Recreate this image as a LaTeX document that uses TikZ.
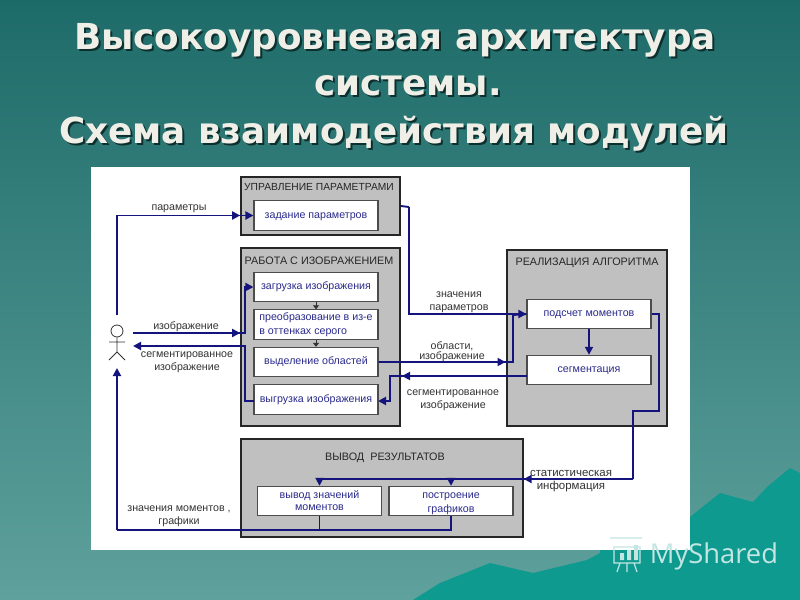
\documentclass[tikz,border=0pt]{standalone}
\usepackage{fontspec}
\setmainfont{Liberation Sans}
\newfontfamily\titlefont{DejaVu Sans}
\newfontfamily\markfont{Open Sans}
\usetikzlibrary{arrows.meta}
\definecolor{bgtop}{HTML}{1D6B69}
\definecolor{bgbot}{HTML}{5FA19C}
\definecolor{hill}{HTML}{0F9A90}
\definecolor{navyline}{HTML}{14147C}
\definecolor{navytext}{HTML}{2A2A8C}
\definecolor{panelgray}{HTML}{C0C0C0}
\definecolor{titlewhite}{HTML}{EFEFE8}
\tikzset{
 grp/.style={draw=black!85,fill=panelgray,line width=1.5pt,inner sep=0pt},
 inbox/.style={draw=black!70,fill=white,line width=0.8pt,inner sep=0pt,minimum width=93pt,minimum height=22pt,font=\fontsize{8}{10.5}\selectfont,text=navytext,align=center},
 oneline/.style={text height=5.2pt,text depth=1pt},
 head/.style={font=\fontsize{8.1}{10}\selectfont,text=black!85,yshift=-0.8pt},
 lab/.style={font=\fontsize{8}{9.8}\selectfont,text=black!80,align=center,yshift=-2pt},
 wire/.style={draw=navyline,line width=1.4pt},
 arr/.style={wire,-{Triangle[length=6pt,width=6pt]}},
 tinyarr/.style={draw=black!80,line width=0.6pt,-{Triangle[length=3pt,width=4.5pt]}},
 titletext/.style={font=\titlefont\bfseries\fontsize{26.8}{30}\selectfont,text=#1}
}
\begin{document}
\begin{tikzpicture}[x=0.75pt,y=-0.75pt]
\useasboundingbox(0,0)rectangle(800,600);
\shade[top color=bgtop,bottom color=bgbot](0,0)rectangle(800,600);
\fill[hill](800,473)--(790,468)--(767,487)--(753,502)--(720,493)--(690,517)--(690,540)--(600,540)--(600,553)--(587,560)--(533,573)--(490,563)--(440,583)--(413,600)--(800,600)--cycle;
% title
\foreach \n/\t/\x/\y in {a/Высокоуровневая архитектура/395/40,b/системы./408/86,c/Схема взаимодействия модулей/394/134}{
\node[titletext=black!55!bgtop](shadow\n)at(\x+2,\y+2){\t};
\node[titletext=titlewhite](title\n)at(\x,\y){\t};
}
\fill[white](91,167)rectangle(690,550);
% groups
\node[grp,minimum width=119pt,minimum height=44pt](gparam)at(320.5,206){};
\node[grp,minimum width=119pt,minimum height=133pt](gimage)at(320.5,337){};
\node[grp,minimum width=120pt,minimum height=132pt](galgo)at(586.5,337.5){};
\node[grp,minimum width=211pt,minimum height=73pt](gout)at(382,488){};
\node[head,font=\fontsize{7.7}{10}\selectfont]at(319,186){УПРАВЛЕНИЕ ПАРАМЕТРАМИ};
\node[head]at(319,260){РАБОТА С ИЗОБРАЖЕНИЕМ};
\node[head]at(587,262){РЕАЛИЗАЦИЯ АЛГОРИТМА};
\node[head]at(385,457){ВЫВОД\ \ РЕЗУЛЬТАТОВ};
% boxes
\node[inbox,oneline](setparam)at(316,215.5){задание параметров};
\node[inbox,oneline](load)at(316,287){загрузка изображения};
\node[inbox,align=left](gray)at(316,324.5){преобразование в из-е\\в оттенках серого};
\node[inbox,oneline](select)at(316,362){выделение областей};
\node[inbox,oneline](unload)at(316,399.5){выгрузка изображения};
\node[inbox,oneline](count)at(589,314){подсчет моментов};
\node[inbox,oneline](segm)at(589,370){сегментация};
\node[inbox,font=\fontsize{8}{9}\selectfont](moments)at(319.5,501){вывод значений\\моментов};
\node[inbox](plots)at(451,501){};
\node[font=\fontsize{8}{10.5}\selectfont,text=navytext,align=center,inner sep=0pt](plotstext)at(451,504){построение\\графиков};
% actor
\node[draw=black!80,circle,line width=0.6pt,minimum size=9pt,inner sep=0pt](man)at(117,331){};
\coordinate(hip)at(117,352);\coordinate(armL)at(109,342);\coordinate(armR)at(125,342);
\coordinate(legL)at(109,360);\coordinate(legR)at(125,360);
\draw[black!80,line width=0.6pt](man.south)--(hip)(armL)--(armR)(legL)--(hip)--(legR);
% free ends and bends
\coordinate(manT)at(117,315);\coordinate(manB)at(117,368);
\coordinate(manI)at(133,333);\coordinate(manO)at(133,346);
\coordinate(busA)at(245,333);\coordinate(busB)at(245,346);
\coordinate(busC)at(409,207);\coordinate(busD)at(513,315);
\coordinate(busE)at(390,376);\coordinate(busF)at(659,411);
\coordinate(busG)at(633,479);\coordinate(busH)at(117,530);
\coordinate(segmW)at(527,376);\coordinate(busJ)at(402,376);
\coordinate(unloadW)at(254,401);\coordinate(unloadE)at(378,401);
% connectors
\draw[arr](manT)|-(setparam.west);
\draw[arr](manT|-setparam.west)--(gparam.west|-setparam.west);
\draw[wire](gparam.east)--(busC);
\draw[arr](busC)|-(count.west);
\draw[arr](manI)--(busA)|-(load.west);
\draw[arr](manI)--(gimage.west|-manI);
\draw[arr](unloadW)-|(busB)--(manO);
\draw[tinyarr](load)--(gray);
\draw[tinyarr](gray)--(select);
\draw[arr](select.east)--(galgo.west|-select.east);
\draw[wire](select.east)-|(busD)--(count.west);
\draw[arr](count)--(segm);
\draw[arr](segmW)--(busJ);
\draw[arr](segmW)-|(busE)|-(unloadE);
\draw[wire](count.east)-|(busF)-|(busG);
\draw[arr](busG)--(gout.east|-busG);
\draw[wire](busG)--(moments.north|-busG);
\draw[arr](moments.north|-busG)--(moments.north);
\draw[arr](plots.north|-busG)--(plots.north);
\draw[wire](plots.south)|-(busH);
\draw[wire](moments.south)--(moments.south|-busH);
\draw[arr](busH)--(manB);
% labels
\node[lab]at(179,206){параметры};
\node[lab]at(186,324){изображение};
\node[lab]at(187,360){сегментированное\\изображение};
\node[lab]at(459,300){значения\\параметров};
\node[lab,font=\fontsize{8}{7.8}\selectfont]at(452,349){области,\\изображение};
\node[lab]at(453,397.5){сегментированное\\изображение};
\node[lab,font=\fontsize{8.6}{9.8}\selectfont]at(571,478.5){статистическая\\информация};
\node[lab]at(179,514){значения моментов ,\\графики};
% watermark
\node[font=\markfont\fontsize{20.5}{24}\selectfont,text=white!75!hill](mark)at(714,556){MyShared};
\draw[white!75!hill,line width=0.9pt](614,547)rectangle(640,563)(610,538)--(642,538)(620,563)--(617,572)(634,563)--(637,572)(627,563)--(627,572);
\fill[white!75!hill](620,553)rectangle(624,560)(627,550)rectangle(631,560)(634,545)rectangle(638,560);
\end{tikzpicture}
\end{document}
